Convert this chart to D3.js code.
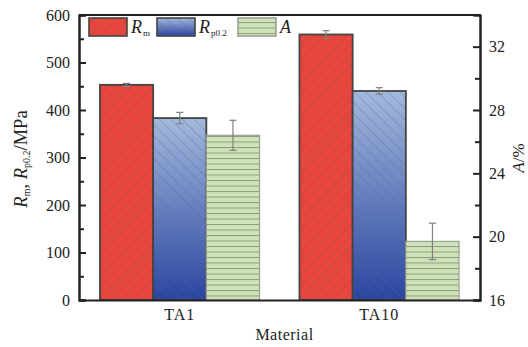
<!DOCTYPE html>
<html>
<head>
<meta charset="utf-8">
<script src="https://cdn.jsdelivr.net/npm/d3@7"></script>
<style>
  body { margin: 0; background: #fff; }
  text { font-family: "Liberation Serif", "DejaVu Serif", serif; fill: #222; }
</style>
</head>
<body>
<svg id="vis"></svg>
<script>
const WIDTH = 528;
const HEIGHT = 347;

const materials = ["TA1", "TA10"];
const rmValues = [453, 559];
const rmErrors = [3, 8];
const rpValues = [383, 440];
const rpErrors = [12, 7];
const elongValues = [26.4, 19.7];
const elongErrors = [0.95, 1.15];
const leftTicks = [0, 100, 200, 300, 400, 500, 600];
const rightTicks = [16, 20, 24, 28, 32];

const margin = {top: 15, right: 48, bottom: 47, left: 79};
const plotW = WIDTH - margin.left - margin.right;
const plotH = HEIGHT - margin.top - margin.bottom;

const svg = d3.select("#vis")
    .attr("width", WIDTH)
    .attr("height", HEIGHT);

// patterns + gradient
const defs = svg.append("defs");

const redPat = defs.append("pattern")
    .attr("id", "redHatch")
    .attr("patternUnits", "userSpaceOnUse")
    .attr("width", 8).attr("height", 8)
    .attr("patternTransform", "rotate(45)");
redPat.append("rect").attr("width", 8).attr("height", 8).attr("fill", "#e8463d");
redPat.append("line").attr("x1", 0).attr("y1", 0).attr("x2", 0).attr("y2", 8)
    .attr("stroke", "#a04e49").attr("stroke-width", 1);

const blueGrad = defs.append("linearGradient")
    .attr("id", "blueGrad")
    .attr("x1", 0).attr("y1", 0).attr("x2", 0).attr("y2", 1);
blueGrad.append("stop").attr("offset", "0%").attr("stop-color", "#a3b9dd");
blueGrad.append("stop").attr("offset", "100%").attr("stop-color", "#2a45a1");

const bluePat = defs.append("pattern")
    .attr("id", "blueHatch")
    .attr("patternUnits", "userSpaceOnUse")
    .attr("width", 8).attr("height", 8)
    .attr("patternTransform", "rotate(-45)");
bluePat.append("line").attr("x1", 0).attr("y1", 0).attr("x2", 0).attr("y2", 8)
    .attr("stroke", "#5a6680").attr("stroke-width", 0.8).attr("opacity", 0.75);

const greenPat = defs.append("pattern")
    .attr("id", "greenHatch")
    .attr("patternUnits", "userSpaceOnUse")
    .attr("width", 8).attr("height", 5.5);
greenPat.append("rect").attr("width", 8).attr("height", 5.5).attr("fill", "#cfe3b8");
greenPat.append("line").attr("x1", 0).attr("y1", 0.5).attr("x2", 8).attr("y2", 0.5)
    .attr("stroke", "#8f9a86").attr("stroke-width", 1);

const g = svg.append("g")
    .attr("transform", "translate(" + margin.left + "," + margin.top + ")");

const x = d3.scaleBand()
    .domain(materials)
    .range([0, plotW])
    .paddingInner(0.2)
    .paddingOuter(0.105);
const sub = d3.scaleBand()
    .domain(["rm", "rp", "a"])
    .range([0, x.bandwidth()]);
const yL = d3.scaleLinear().domain([0, 600]).range([plotH, 0]);
const yR = d3.scaleLinear().domain([16, 34]).range([plotH, 0]);

const rows = materials.map((m, i) => ({
    m: m,
    bars: [
        {key: "rm", v: rmValues[i], e: rmErrors[i], y: yL},
        {key: "rp", v: rpValues[i], e: rpErrors[i], y: yL},
        {key: "a", v: elongValues[i], e: elongErrors[i], y: yR}
    ]
}));

const groups = g.selectAll(".grp").data(rows).join("g")
    .attr("class", "grp")
    .attr("transform", d => "translate(" + x(d.m) + ",0)");

groups.each(function(d) {
    const grp = d3.select(this);
    d.bars.forEach(b => {
        const bx = sub(b.key);
        const by = b.y(b.v);
        const bh = plotH - by;
        if (b.key === "rp") {
            grp.append("rect")
                .attr("x", bx).attr("y", by).attr("width", sub.bandwidth()).attr("height", bh)
                .attr("fill", "url(#blueGrad)");
        }
        grp.append("rect")
            .attr("x", bx).attr("y", by).attr("width", sub.bandwidth()).attr("height", bh)
            .attr("fill", b.key === "rm" ? "url(#redHatch)" : b.key === "rp" ? "url(#blueHatch)" : "url(#greenHatch)")
            .attr("stroke", b.key === "a" ? "#9aa094" : "#444")
            .attr("stroke-width", b.key === "a" ? 1.2 : 1.8);
        // error bar
        const cx = bx + sub.bandwidth() / 2;
        const y1 = b.y(b.v + b.e), y2 = b.y(b.v - b.e);
        grp.append("line").attr("x1", cx).attr("x2", cx).attr("y1", y1).attr("y2", y2)
            .attr("stroke", "#808080").attr("stroke-width", 1.2);
        [y1, y2].forEach(yy => grp.append("line")
            .attr("x1", cx - 3.5).attr("x2", cx + 3.5).attr("y1", yy).attr("y2", yy)
            .attr("stroke", "#808080").attr("stroke-width", 1.2));
    });
});

// axes
const axisColor = "#222";
const leftAxis = g.append("g")
    .call(d3.axisLeft(yL).tickValues(leftTicks).tickSize(-7).tickPadding(9));
leftAxis.selectAll("text").attr("font-size", 16);
g.append("g")
    .call(d3.axisLeft(yL).tickValues(d3.range(50, 600, 100)).tickSize(-5).tickFormat(""));

const rightAxis = g.append("g")
    .attr("transform", "translate(" + plotW + ",0)")
    .call(d3.axisRight(yR).tickValues(rightTicks).tickSize(-7).tickPadding(9));
rightAxis.selectAll("text").attr("font-size", 16);
g.append("g")
    .attr("transform", "translate(" + plotW + ",0)")
    .call(d3.axisRight(yR).tickValues([18, 22, 26, 30]).tickSize(-5).tickFormat(""));

const bottomAxis = g.append("g")
    .attr("transform", "translate(0," + plotH + ")")
    .call(d3.axisBottom(x).tickSize(0).tickPadding(9));
bottomAxis.selectAll("text").attr("font-size", 16).attr("letter-spacing", 1);

g.append("line").attr("x1", 0).attr("x2", plotW).attr("y1", 0).attr("y2", 0);

g.selectAll(".domain").attr("stroke", axisColor).attr("stroke-width", 2);
g.selectAll(".tick line").attr("stroke", axisColor).attr("stroke-width", 2);
g.selectAll("line:not([stroke])").attr("stroke", axisColor).attr("stroke-width", 2);
g.selectAll(".tick text").attr("fill", "#222")
    .style("font-family", "'Liberation Serif', 'DejaVu Serif', serif");

// axis titles
svg.append("text")
    .attr("x", margin.left + plotW / 2 + 5)
    .attr("y", 340)
    .attr("text-anchor", "middle")
    .attr("font-size", 16)
    .attr("letter-spacing", 0.5)
    .text("Material");

const leftTitle = svg.append("text")
    .attr("transform", "translate(27,159) rotate(-90)")
    .attr("text-anchor", "middle")
    .attr("font-size", 18.5);
leftTitle.append("tspan").attr("font-style", "italic").text("R");
leftTitle.append("tspan").attr("font-size", 10).attr("dy", 3).text("m");
leftTitle.append("tspan").attr("dy", -3).text(", ");
leftTitle.append("tspan").attr("font-style", "italic").text("R");
leftTitle.append("tspan").attr("font-size", 10).attr("dy", 3).text("p0.2");
leftTitle.append("tspan").attr("dy", -3).text("/MPa");

const rightTitle = svg.append("text")
    .attr("transform", "translate(524,158) rotate(-90)")
    .attr("text-anchor", "middle")
    .attr("font-size", 17);
rightTitle.append("tspan").attr("font-style", "italic").text("A");
rightTitle.append("tspan").text("/%");

// legend
const legendItems = [
    {fill: ["url(#redHatch)"], stroke: "#444", label: "R", subLabel: "m", x: 89},
    {fill: ["url(#blueGrad)", "url(#blueHatch)"], stroke: "#444", label: "R", subLabel: "p0.2", x: 157},
    {fill: ["url(#greenHatch)"], stroke: "#9aa094", label: "A", subLabel: "", x: 238}
];
legendItems.forEach(it => {
    it.fill.forEach((f, k) => svg.append("rect")
        .attr("x", it.x).attr("y", 18).attr("width", 38).attr("height", 18)
        .attr("fill", f)
        .attr("stroke", k === it.fill.length - 1 ? it.stroke : "none")
        .attr("stroke-width", 1.6));
    const t = svg.append("text")
        .attr("x", it.x + 42).attr("y", 33)
        .attr("font-size", 18);
    t.append("tspan").attr("font-style", "italic").text(it.label);
    if (it.subLabel) t.append("tspan").attr("font-size", 9).attr("dy", 3).attr("dx", 1).text(it.subLabel);
});
</script>
</body>
</html>
